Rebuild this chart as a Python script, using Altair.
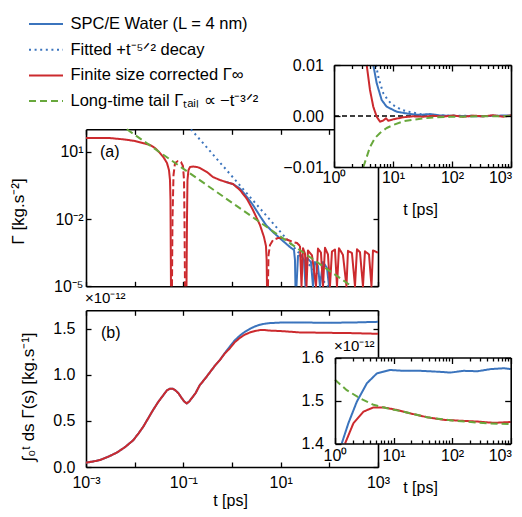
import altair as alt
import pandas as pd

W, H = 506, 501
FONT = "Liberation Sans"
BLUE, RED, GREEN = "#3b74bd", "#cc2a2e", "#68a83c"

SERIES = ["SPC/E Water (L = 4 nm)", "Fitted +t⁻⁵ᐟ² decay",
          "Finite size corrected Γ∞", "Long-time tail Γₜₐᵢₗ ∝ −t⁻³ᐟ²"]
SERIES_COLORS = [BLUE, BLUE, RED, GREEN]
SERIES_DASH = [[1, 0], [2, 3.6], [1, 0], [7, 4]]

# ---------------- panel (a): log10 t , log10 |Gamma| ----------------
red_a1_logt = [-3.0, -2.507, -2.199, -1.993, -1.788, -1.685, -1.582, -1.480, -1.397, -1.336, -1.295, -1.274, -1.264, -1.254]
red_a1_logg = [1.61, 1.61, 1.544, 1.477, 1.366, 1.299, 1.165, 0.942, 0.719, 0.496, 0.184, -0.262, -1.154, -5.0]
red_a2_logt = [-0.935, -0.925, -0.915, -0.894, -0.863, -0.802, -0.719, -0.658, -0.514, -0.391, -0.247, -0.123, 0.020, 0.164, 0.308, 0.431, 0.575, 0.657, 0.698, 0.712, 0.719]
red_a2_logg = [-5.0, -2.045, -0.262, 0.184, 0.318, 0.340, 0.318, 0.273, 0.095, -0.128, -0.262, -0.351, -0.440, -0.708, -1.109, -1.600, -2.268, -2.803, -3.204, -3.828, -5.0]
red_a3_logt = [1.397, 1.428, 1.459, 1.500, 1.531, 1.561, 1.644, 1.726, 1.767, 1.828, 1.870, 1.911, 1.972, 2.013, 2.054, 2.116, 2.157, 2.198, 2.280, 2.352, 2.383, 2.465, 2.527, 2.568, 2.630, 2.691, 2.732, 2.815, 2.866, 2.897, 3.0]
red_a3_logg = [-3.204, -5, -3.30, -3.55, -5, -3.40, -3.62, -5, -3.32, -3.50, -5, -3.28, -3.58, -5, -3.45, -3.36, -5, -3.30, -3.60, -5, -3.42, -3.52, -5, -3.35, -3.48, -5, -3.44, -3.58, -5, -3.40, -3.50]
# negative parts (|Gamma|, dashed)
neg_a1_logt = [-1.233, -1.223, -1.202, -1.171, -1.110, -1.048, -1.007, -0.986, -0.976, -0.966]
neg_a1_logg = [-5.0, -2.045, -0.039, 0.496, 0.586, 0.541, 0.362, -0.262, -2.045, -5.0]
neg_a2_logt = [0.739, 0.750, 0.781, 0.842, 0.945, 1.048, 1.150, 1.253, 1.335, 1.397]
neg_a2_logg = [-5.0, -3.605, -3.160, -2.937, -2.848, -2.848, -2.937, -3.026, -3.070, -3.204]
blue_a1_logt = [-0.123, 0.020, 0.164, 0.226, 0.308, 0.431, 0.575, 0.698, 0.842, 1.048, 1.191, 1.274, 1.294, 1.304]
blue_a1_logg = [-0.351, -0.440, -0.641, -0.797, -1.020, -1.377, -1.868, -2.268, -2.581, -2.982, -3.249, -3.383, -3.829, -5.0]
blue_a2_logt = [1.325, 1.356, 1.418, 1.479, 1.510, 1.541, 1.623, 1.664, 1.705, 1.767, 1.808, 1.870, 1.952, 1.993]
blue_a2_logg = [-5.0, -3.650, -3.605, -3.828, -5.0, -3.739, -3.917, -5.0, -3.917, -4.095, -5.0, -3.917, -4.185, -5.0]
fit_a_logt = [-0.843, 1.972]
fit_a_logg = [2.0, -5.0]
tail_a_logt = [-2.16, 2.46]
tail_a_logg = [2.0, -5.0]

# ---------------- inset (a): log10 t , Gamma ----------------
ia_blue_logt = [0.666, 0.724, 0.808, 0.893, 1.063, 1.288, 1.458, 1.627, 1.797, 2.136, 2.475, 2.729, 3.0]
ia_blue_g = [0.0100, 0.00641, 0.00314, 0.00182, 0.00084, 0.00039, 0.00020, 0.00039, 0.0001, 0.0, -0.00006, 0.00006, 0.0001]
ia_fit_logt = [0.712, 0.760, 0.836, 0.920, 1.0, 1.15, 1.288, 1.5, 1.8, 2.2, 3.0]
ia_fit_g = [0.0100, 0.0072, 0.00445, 0.0030, 0.00216, 0.0012, 0.00078, 0.0003, 0.0001, 0.00003, 0.0]
ia_red_logt = [0.554, 0.610, 0.666, 0.724, 0.780, 0.836, 0.881, 0.920, 1.005, 1.175, 1.339, 1.508, 1.678, 1.847, 2.017, 2.186, 2.356, 2.525, 2.695, 2.864, 3.0]
ia_red_g = [0.0100, 0.00510, 0.00182, -0.00014, -0.00112, -0.00088, -0.00045, -0.00092, -0.00065, -0.00025, -0.00006, -0.00014, 0.00004, -0.00012, 0.0001, -0.00016, 0.00008, -0.00008, 0.00016, -0.00014, 0.00014]
ia_tail_logt = [0.497, 0.554, 0.610, 0.695, 0.780, 0.893, 1.005, 1.175, 1.339, 1.627, 1.966, 2.475, 3.0]
ia_tail_g = [-0.0100, -0.00804, -0.00608, -0.00431, -0.00333, -0.00235, -0.00176, -0.00104, -0.00073, -0.00033, -0.00016, -0.00006, -0.00002]

# ---------------- panel (b): log10 t , integral (x1e-12) ----------------
red_b_logt = [-3.0, -2.85, -2.71, -2.55, -2.37, -2.2, -2.03, -1.92, -1.82, -1.72, -1.62, -1.51, -1.41, -1.34, -1.27, -1.22, -1.17, -1.10, -1.03, -0.98, -0.93, -0.88, -0.83, -0.75, -0.66, -0.55, -0.45, -0.35, -0.25, -0.15, -0.04, 0.05, 0.16, 0.26, 0.37, 0.47, 0.57, 0.68, 0.78, 1.0, 1.39, 1.7, 2.07, 2.5, 3.0]
red_b_v = [0.047, 0.06, 0.076, 0.11, 0.155, 0.215, 0.29, 0.365, 0.44, 0.53, 0.62, 0.71, 0.78, 0.83, 0.85, 0.85, 0.835, 0.80, 0.745, 0.71, 0.69, 0.71, 0.745, 0.80, 0.89, 0.96, 1.03, 1.10, 1.16, 1.23, 1.29, 1.35, 1.40, 1.435, 1.46, 1.475, 1.485, 1.485, 1.48, 1.475, 1.46, 1.458, 1.455, 1.452, 1.445]
blue_b_logt = red_b_logt[:29] + [-0.15, -0.04, 0.05, 0.16, 0.26, 0.37, 0.47, 0.57, 0.68, 0.78, 1.0, 1.39, 1.7, 2.07, 2.5, 3.0]
blue_b_v = red_b_v[:29] + [1.235, 1.31, 1.37, 1.425, 1.465, 1.50, 1.525, 1.543, 1.555, 1.561, 1.567, 1.568, 1.566, 1.565, 1.568, 1.575]

# ---------------- inset (b) ----------------
ib_blue_logt = [0.115, 0.228, 0.372, 0.544, 0.715, 0.943, 1.172, 1.458, 1.744, 1.973, 2.201, 2.431, 2.659, 2.887, 3.0]
ib_blue_v = [1.400, 1.447, 1.497, 1.540, 1.563, 1.571, 1.569, 1.569, 1.567, 1.565, 1.569, 1.568, 1.573, 1.575, 1.573]
ib_red_logt = [0.172, 0.314, 0.485, 0.657, 0.828, 1.058, 1.286, 1.573, 1.858, 2.144, 2.431, 2.716, 3.0]
ib_red_v = [1.400, 1.447, 1.474, 1.484, 1.484, 1.478, 1.470, 1.461, 1.455, 1.453, 1.451, 1.448, 1.450]
ib_tail_logt = [0.0, 0.201, 0.429, 0.657, 0.887, 1.172, 1.573, 2.030, 2.602, 3.0]
ib_tail_v = [1.548, 1.524, 1.505, 1.490, 1.482, 1.474, 1.461, 1.453, 1.447, 1.445]

# tick values / labels
DEC_MAIN = [1e-3, 1e-2, 1e-1, 1, 10, 100, 1000]
DEC_IN = [1, 10, 100, 1000]
MINOR_IN = [m * d for d in [1, 10, 100] for m in range(2, 10)]
EXP_LABELS = ['10⁻⁵', '10⁻⁴', '10⁻³', '10⁻²', '10⁻¹', '10⁰', '10¹', '10²', '10³']


def exp_expr(show):
    arr = [lab if e in show else '' for e, lab in zip(range(-5, 4), EXP_LABELS)]
    return "[" + ",".join("'%s'" % s for s in arr) + "][round(log(datum.value)/LN10)+5]"


def df_log(parts, name):
    rows = []
    for seg, (lt, lg) in enumerate(parts):
        for a, b in zip(lt, lg):
            rows.append({"t": 10 ** a, "v": 10 ** b, "series": name, "seg": seg})
    return pd.DataFrame(rows)


def df_lin(parts, name):
    rows = []
    for seg, (lt, vv) in enumerate(parts):
        for a, b in zip(lt, vv):
            rows.append({"t": 10 ** a, "v": b, "series": name, "seg": seg})
    return pd.DataFrame(rows)


# geometry (chart pixel coordinates)
MA_X, MA_Y = [78, 370], [278.3, 121.3]
MB_X, MB_Y = [78, 370], [459, 302.3]
IA_X, IA_Y = [326, 503], [159, 57]
IB_X, IB_Y = [327, 502.7], [435.5, 349.5]

sxA = alt.Scale(type='log', domain=[1e-3, 1e3], range=MA_X, clamp=True)
syA = alt.Scale(type='log', domain=[1e-5, 1e2], range=MA_Y, clamp=True)
sxB = alt.Scale(type='log', domain=[1e-3, 1e3], range=MB_X, clamp=True)
syB = alt.Scale(type='linear', domain=[0, 1.7], range=MB_Y, nice=False, zero=False, clamp=True)
sxIA = alt.Scale(type='log', domain=[1, 1000], range=IA_X, clamp=True)
syIA = alt.Scale(type='linear', domain=[-0.01, 0.01], range=IA_Y, nice=False, zero=False, clamp=True)
sxIB = alt.Scale(type='log', domain=[1, 1000], range=IB_X, clamp=True)
syIB = alt.Scale(type='linear', domain=[1.4, 1.6], range=IB_Y, nice=False, zero=False, clamp=True)

LAST_SHIFT = {"condition": {"test": "datum.value > 500", "value": -11}, "value": 0}


def axis(orient, offset, values, tick=5, labels=False, labelExpr=None, fmt=None,
         title=None, zindex=0, labelPadding=4, domain=True, titleSize=16, labelOffset=None, **kw):
    d = dict(orient=orient, offset=offset, values=values,
             tickSize=alt.ExprRef(expr=str(-tick)), tickColor='black', tickWidth=1.3,
             domain=domain, domainColor='black', domainWidth=1.6, labels=labels,
             grid=False, zindex=zindex, ticks=True, labelFlush=False, labelOverlap=False)
    if labels:
        d.update(labelFont=FONT, labelFontSize=16, labelColor='black', labelPadding=labelPadding)
        if labelExpr:
            d['labelExpr'] = labelExpr
        if fmt:
            d['format'] = fmt
        if labelOffset is not None:
            d['labelOffset'] = labelOffset
    if title:
        d.update(title=title, titleFont=FONT, titleFontSize=titleSize, titleFontWeight='normal',
                 titleColor='black', **kw)
    else:
        d['title'] = None
    return alt.Axis(**d)


LEG = alt.Legend(orient='none', legendX=28.5, legendY=6.5, title=None,
                 symbolType='M-2,0H2', symbolSize=289, symbolStrokeWidth=2,
                 labelFont=FONT, labelFontSize=16.5, labelColor='black', labelOffset=15,
                 rowPadding=7.7, padding=0, labelLimit=400)
COLOR = alt.Color('series:N', scale=alt.Scale(domain=SERIES, range=SERIES_COLORS), legend=LEG)
DASHENC = alt.StrokeDash('series:N', scale=alt.Scale(domain=SERIES, range=SERIES_DASH), legend=LEG)


def frame_df(xd, yd):
    return pd.DataFrame({'x0': [xd[0]], 'x1': [xd[1]], 'y0': [yd[0]], 'y1': [yd[1]]})


def carrier(fr, sx, sy, xax, yax, fill=None):
    m = alt.Chart(fr).mark_rect(fill=fill) if fill else alt.Chart(fr).mark_rect(opacity=0)
    return m.encode(x=alt.X('x0:Q', scale=sx, axis=xax), x2='x1',
                    y=alt.Y('y0:Q', scale=sy, axis=yax), y2='y1')


def lines(df, sx, sy):
    return alt.Chart(df).mark_line(strokeWidth=2, strokeJoin='round').encode(
        x=alt.X('t:Q', scale=sx, axis=None), y=alt.Y('v:Q', scale=sy, axis=None),
        color=COLOR, strokeDash=DASHENC, detail='seg:N')


def label(text, sx, sy, xv, yv, dx=0, dy=0, size=16, baseline='middle'):
    return alt.Chart(pd.DataFrame({'k': [0]})).mark_text(
        text=text, align='left', baseline=baseline, dx=dx, dy=dy, font=FONT,
        fontSize=size, color='black').encode(
        x=alt.XDatum(xv, type='quantitative', scale=sx, axis=None),
        y=alt.YDatum(yv, type='quantitative', scale=sy, axis=None))


# ---- panel (a)
frA = frame_df([1e-3, 1e3], [1e-5, 1e2])
panelA = alt.layer(
    carrier(frA, sxA, syA,
            axis('bottom', MA_Y[0] - H, DEC_MAIN),
            axis('left', -MA_X[0], [1e-5, 1e-2, 1e1], labels=True, labelExpr=exp_expr({-5, -2, 1}),
                 labelPadding=8, title="Γ    [kg.s⁻²]", titleSize=17, titleX=-67.5, titleY=203,
                 titleBaseline='middle')),
    carrier(frA, sxA, syA,
            axis('top', -MA_Y[1], DEC_MAIN),
            axis('right', MA_X[1] - W, [1e-5, 1e-2, 1e1])),
    lines(df_log([(blue_a1_logt, blue_a1_logg), (blue_a2_logt, blue_a2_logg)], SERIES[0]), sxA, syA),
    lines(df_log([(fit_a_logt, fit_a_logg)], SERIES[1]), sxA, syA),
    lines(df_log([(red_a1_logt, red_a1_logg), (red_a2_logt, red_a2_logg), (red_a3_logt, red_a3_logg)], SERIES[2]), sxA, syA),
    alt.Chart(df_log([(neg_a1_logt, neg_a1_logg), (neg_a2_logt, neg_a2_logg)], 'neg')).mark_line(
        strokeWidth=2, color=RED, strokeDash=[7, 3]).encode(
        x=alt.X('t:Q', scale=sxA, axis=None), y=alt.Y('v:Q', scale=syA, axis=None), detail='seg:N'),
    lines(df_log([(tail_a_logt, tail_a_logg)], SERIES[3]), sxA, syA),
    label('(a)', sxA, syA, 1e-3, 10, dx=14),
).resolve_axis(x='independent', y='independent')

# ---- inset (a)
frIA = frame_df([1, 1000], [-0.01, 0.01])
insetA = alt.layer(
    carrier(frIA, sxIA, syIA,
            axis('bottom', IA_Y[0] - H, DEC_IN, tick=6, labels=True, labelExpr=exp_expr({0, 1, 2, 3}),
                 labelPadding=8, labelOffset=LAST_SHIFT, title="t [ps]", titleX=412, titleY=42,
                 titleBaseline='middle', zindex=1),
            axis('left', -IA_X[0], [-0.01, 0, 0.01], tick=6, labels=True, fmt='.2f',
                 labelPadding=16.7, zindex=1), fill='white'),
    carrier(frIA, sxIA, syIA,
            axis('top', -IA_Y[1], DEC_IN, tick=6, zindex=1),
            axis('right', IA_X[1] - W, [-0.01, 0, 0.01], tick=6, zindex=1)),
    carrier(frIA, sxIA, syIA, axis('bottom', IA_Y[0] - H, MINOR_IN, tick=3.5, domain=False, zindex=1), None),
    carrier(frIA, sxIA, syIA, axis('top', -IA_Y[1], MINOR_IN, tick=3.5, domain=False, zindex=1), None),
    alt.Chart(pd.DataFrame({'k': [0]})).mark_rule(color='black', strokeWidth=1.5, strokeDash=[5, 3]).encode(
        x=alt.XDatum(1, type='quantitative', scale=sxIA, axis=None),
        x2=alt.X2Datum(1000),
        y=alt.YDatum(0, type='quantitative', scale=syIA, axis=None)),
    lines(df_lin([(ia_blue_logt, ia_blue_g)], SERIES[0]), sxIA, syIA),
    lines(df_lin([(ia_fit_logt, ia_fit_g)], SERIES[1]), sxIA, syIA),
    lines(df_lin([(ia_red_logt, ia_red_g)], SERIES[2]), sxIA, syIA),
    lines(df_lin([(ia_tail_logt, ia_tail_g)], SERIES[3]), sxIA, syIA),
).resolve_axis(x='independent', y='independent')

# ---- panel (b)
frB = frame_df([1e-3, 1e3], [0, 1.7])
panelB = alt.layer(
    carrier(frB, sxB, syB,
            axis('bottom', MB_Y[0] - H, DEC_MAIN, labels=True, labelExpr=exp_expr({-3, -1, 1, 3}),
                 labelPadding=12, title="t [ps]", titleX=222, titleY=38, titleBaseline='alphabetic'),
            axis('left', -MB_X[0], [0, 0.5, 1.0, 1.5], labels=True, fmt='.1f', labelPadding=16,
                 title="∫₀ᵗ ds Γ(s)   [kg.s⁻¹]", titleSize=17, titleX=-58, titleY=388.5,
                 titleBaseline='middle')),
    carrier(frB, sxB, syB,
            axis('top', -MB_Y[1], DEC_MAIN),
            axis('right', MB_X[1] - W, [0, 0.5, 1.0, 1.5])),
    lines(df_lin([(blue_b_logt, blue_b_v)], SERIES[0]), sxB, syB),
    lines(df_lin([(red_b_logt, red_b_v)], SERIES[2]), sxB, syB),
    label('(b)', sxB, syB, 1e-3, 1.45, dx=15),
    label('×10⁻¹²', sxB, syB, 1e-3, 1.7, dx=-1, dy=-7, size=15, baseline='alphabetic'),
).resolve_axis(x='independent', y='independent')

# ---- inset (b)
frIB = frame_df([1, 1000], [1.4, 1.6])
insetB = alt.layer(
    carrier(frIB, sxIB, syIB,
            axis('bottom', IB_Y[0] - H, DEC_IN, tick=6, labels=True, labelExpr=exp_expr({0, 1, 2, 3}),
                 labelPadding=10, labelOffset=LAST_SHIFT, title="t [ps]", titleX=412, titleY=43.5,
                 titleBaseline='middle', zindex=1),
            axis('left', -IB_X[0], [1.4, 1.5, 1.6], tick=6, labels=True, fmt='.1f',
                 labelPadding=17.7, zindex=1), fill='white'),
    carrier(frIB, sxIB, syIB,
            axis('top', -IB_Y[1], DEC_IN, tick=6, zindex=1),
            axis('right', IB_X[1] - W, [1.4, 1.5, 1.6], tick=6, zindex=1)),
    carrier(frIB, sxIB, syIB, axis('bottom', IB_Y[0] - H, MINOR_IN, tick=3.5, domain=False, zindex=1), None),
    carrier(frIB, sxIB, syIB, axis('top', -IB_Y[1], MINOR_IN, tick=3.5, domain=False, zindex=1), None),
    lines(df_lin([(ib_blue_logt, ib_blue_v)], SERIES[0]), sxIB, syIB),
    lines(df_lin([(ib_red_logt, ib_red_v)], SERIES[2]), sxIB, syIB),
    lines(df_lin([(ib_tail_logt, ib_tail_v)], SERIES[3]), sxIB, syIB),
    label('×10⁻¹²', sxIB, syIB, 1, 1.6, dx=-1, dy=-7, size=15, baseline='alphabetic'),
).resolve_axis(x='independent', y='independent')

chart = alt.layer(panelA, insetA, panelB, insetB).resolve_scale(
    x='independent', y='independent').properties(
    width=W, height=H, autosize=alt.AutoSizeParams(type='none'), padding=0,
    background='white').configure_view(strokeWidth=0)

chart.save("out.html", embed_options={"renderer": "svg", "actions": False})
